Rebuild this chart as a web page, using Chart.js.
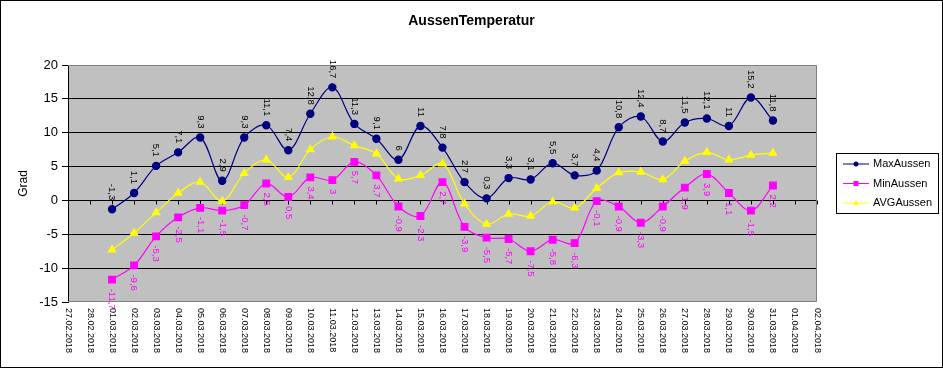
<!DOCTYPE html>
<html>
<head>
<meta charset="utf-8">
<script src="https://cdn.jsdelivr.net/npm/chart.js@4/dist/chart.umd.min.js"></script>
<style>
  html, body { margin: 0; padding: 0; background: #fff; }
  #wrap { width: 943px; height: 368px; }
</style>
</head>
<body>
<div id="wrap"><canvas id="chart" width="943" height="368"></canvas></div>
<script>
const tage = [
  "27.02.2018", "28.02.2018",
  "01.03.2018", "02.03.2018", "03.03.2018", "04.03.2018", "05.03.2018", "06.03.2018", "07.03.2018",
  "08.03.2018", "09.03.2018", "10.03.2018", "11.03.2018", "12.03.2018", "13.03.2018", "14.03.2018",
  "15.03.2018", "16.03.2018", "17.03.2018", "18.03.2018", "19.03.2018", "20.03.2018", "21.03.2018",
  "22.03.2018", "23.03.2018", "24.03.2018", "25.03.2018", "26.03.2018", "27.03.2018", "28.03.2018",
  "29.03.2018", "30.03.2018", "31.03.2018",
  "01.04.2018", "02.04.2018"
];

const maxAussen = [null, null,
  -1.3, 1.1, 5.1, 7.1, 9.3, 2.9, 9.3, 11.1, 7.4, 12.8, 16.7, 11.3, 9.1, 6, 11, 7.8,
  2.7, 0.3, 3.3, 3.1, 5.5, 3.7, 4.4, 10.8, 12.4, 8.7, 11.5, 12.1, 11, 15.2, 11.8,
  null, null];

const minAussen = [null, null,
  -11.7, -9.6, -5.3, -2.5, -1.1, -1.5, -0.7, 2.5, 0.5, 3.4, 3, 5.7, 3.7, -0.9, -2.3, 2.7,
  -3.9, -5.5, -5.7, -7.5, -5.8, -6.3, -0.1, -0.9, -3.3, -0.9, 1.9, 3.9, 1.1, -1.5, 2.2,
  null, null];

const avgAussen = [null, null,
  -7.3, -4.8, -1.8, 1.1, 2.7, -0.1, 4.0, 6.0, 3.4, 7.5, 9.4, 8.1, 6.9, 3.2, 3.7, 5.4,
  -0.5, -3.5, -2.0, -2.3, -0.2, -1.1, 1.8, 4.1, 4.2, 3.1, 5.8, 7.1, 6.0, 6.7, 7.0,
  null, null];

const yTicks = [-15, -10, -5, 0, 5, 10, 15, 20];

const FONT = "'Liberation Sans', Arial, sans-serif";

function fmt(v) {
  return String(v).replace(".", ",");
}

const excelPlugin = {
  id: "excelLook",
  beforeDraw(chart) {
    const { ctx, chartArea: a, width, height } = chart;
    ctx.save();
    ctx.fillStyle = "#ffffff";
    ctx.fillRect(0, 0, width, height);
    ctx.fillStyle = "#c0c0c0";
    ctx.fillRect(a.left, a.top, a.right - a.left, a.bottom - a.top);
    ctx.restore();
  },
  beforeDatasetsDraw(chart) {
    const { ctx, chartArea: a, scales } = chart;
    ctx.save();
    // Rahmen der Zeichenfläche
    ctx.strokeStyle = "#808080";
    ctx.lineWidth = 1;
    ctx.beginPath();
    ctx.moveTo(a.left, a.top + 0.5);
    ctx.lineTo(a.right - 0.5, a.top + 0.5);
    ctx.lineTo(a.right - 0.5, a.bottom - 0.5);
    ctx.lineTo(a.left, a.bottom - 0.5);
    ctx.stroke();
    // Teilstriche der X-Achse auf der Nulllinie
    const y0 = Math.round(scales.y.getPixelForValue(0)) + 0.5;
    ctx.strokeStyle = "#000";
    ctx.beginPath();
    tage.forEach((t, i) => {
      const x = Math.round(scales.x.getPixelForValue(i)) + 0.5;
      ctx.moveTo(x, y0);
      ctx.lineTo(x, y0 + 4);
    });
    ctx.stroke();
    ctx.restore();
  },
  afterDatasetsDraw(chart) {
    const { ctx, scales } = chart;
    ctx.save();
    // Datenbeschriftungen
    ctx.font = "9.5px " + FONT;
    ctx.textBaseline = "middle";
    [[0, -9, "right"], [1, 9, "left"]].forEach(([di, off, align]) => {
      const ds = chart.data.datasets[di];
      ctx.fillStyle = di === 0 ? "#000000" : ds.borderColor;
      ds.data.forEach((v, i) => {
        if (v === null) return;
        const x = scales.x.getPixelForValue(i);
        const y = scales.y.getPixelForValue(v);
        ctx.save();
        ctx.translate(x, y + off);
        ctx.rotate(Math.PI / 2);
        ctx.textAlign = align;
        ctx.fillText(fmt(v), 0, 0);
        ctx.restore();
      });
    });
    // Datumsbeschriftung
    ctx.fillStyle = "#000";
    ctx.font = "9px " + FONT;
    tage.forEach((t, i) => {
      const x = scales.x.getPixelForValue(i);
      ctx.save();
      ctx.translate(x, chart.chartArea.bottom + 6);
      ctx.rotate(Math.PI / 2);
      ctx.textAlign = "left";
      ctx.fillText(t, 0, 0);
      ctx.restore();
    });
    ctx.restore();
  },
  afterDraw(chart) {
    const { ctx, width, height } = chart;
    ctx.save();
    // Titel
    ctx.fillStyle = "#000";
    ctx.font = "bold 14px " + FONT;
    ctx.textAlign = "center";
    ctx.textBaseline = "middle";
    ctx.fillText("AussenTemperatur", width / 2, 21);

    // Legende
    ctx.strokeStyle = "#000";
    ctx.lineWidth = 1;
    ctx.strokeRect(836.5, 153.5, 102, 60);
    ctx.font = "11px " + FONT;
    ctx.textAlign = "left";
    const rows = [164, 183.5, 203];
    chart.data.datasets.forEach((ds, i) => {
      const y = rows[i];
      ctx.strokeStyle = ds.borderColor;
      ctx.beginPath();
      ctx.moveTo(843, y);
      ctx.lineTo(869, y);
      ctx.stroke();
      ctx.fillStyle = ds.backgroundColor;
      ctx.beginPath();
      if (ds.pointStyle === "circle") {
        ctx.arc(856, y, 2.5, 0, Math.PI * 2);
      } else if (ds.pointStyle === "rect") {
        ctx.rect(853.5, y - 2.5, 5, 5);
      } else {
        ctx.moveTo(856, y - 3);
        ctx.lineTo(859, y + 2);
        ctx.lineTo(853, y + 2);
        ctx.closePath();
      }
      ctx.fill();
      ctx.fillStyle = "#000";
      ctx.fillText(ds.label, 873, y);
    });

    // Rahmen um das Diagramm
    ctx.strokeStyle = "#000";
    ctx.strokeRect(0.5, 0.5, width - 1, height - 1);
    ctx.restore();
  }
};

new Chart(document.getElementById("chart"), {
  type: "line",
  data: {
    labels: tage,
    datasets: [
      {
        label: "MaxAussen",
        data: maxAussen,
        borderColor: "#000080",
        backgroundColor: "#000080",
        borderWidth: 1.2,
        pointStyle: "circle",
        pointRadius: 3.6,
        tension: 0.35
      },
      {
        label: "MinAussen",
        data: minAussen,
        borderColor: "#ff00ff",
        backgroundColor: "#ff00ff",
        borderWidth: 1.2,
        pointStyle: "rect",
        pointRadius: 4.7,
        tension: 0.35
      },
      {
        label: "AVGAussen",
        data: avgAussen,
        borderColor: "#ffff00",
        backgroundColor: "#ffff00",
        borderWidth: 1.2,
        pointStyle: "triangle",
        pointRadius: 4.2,
        tension: 0.35
      }
    ]
  },
  options: {
    responsive: false,
    animation: false,
    layout: { padding: { top: 65, right: 126, left: 0, bottom: 0 } },
    plugins: {
      legend: { display: false },
      title: { display: false },
      tooltip: { enabled: false }
    },
    scales: {
      x: {
        type: "category",
        offset: false,
        ticks: { display: false },
        grid: { display: false },
        border: { display: false },
        afterFit(scale) { scale.height = 66; }
      },
      y: {
        min: -15,
        max: 20,
        afterBuildTicks(scale) { scale.ticks = yTicks.map(v => ({ value: v })); },
        ticks: {
          color: "#000",
          font: { family: FONT, size: 13 },
          padding: 4
        },
        grid: {
          color: ctx => (ctx.tick && (ctx.tick.value === 20 || ctx.tick.value === -15)) ? "rgba(0,0,0,0)" : "#000",
          tickColor: "#000",
          tickLength: 6,
          lineWidth: 1
        },
        border: { display: true, color: "#000", width: 1 },
        title: {
          display: true,
          text: "Grad",
          color: "#000",
          font: { family: FONT, size: 12 },
          padding: { top: 16, bottom: 0 }
        },
        afterFit(scale) { scale.width = 68; }
      }
    }
  },
  plugins: [excelPlugin]
});
</script>
</body>
</html>
